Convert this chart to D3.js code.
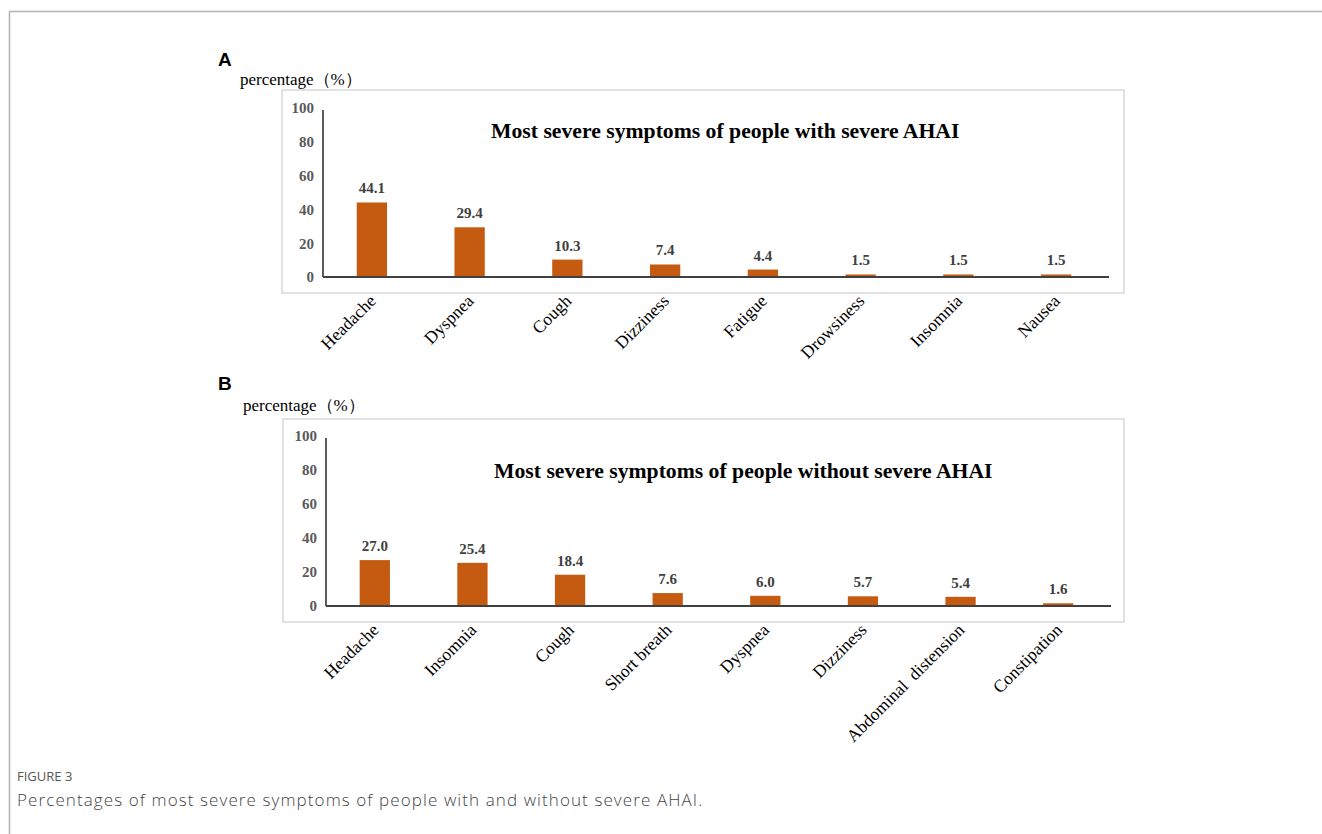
<!DOCTYPE html>
<html>
<head>
<meta charset="utf-8">
<script src="https://cdn.jsdelivr.net/npm/d3@7"></script>
<style>
  html, body { margin: 0; padding: 0; background: #fff; }
  svg { display: block; }
</style>
</head>
<body>
<svg id="chart" width="1322" height="834"></svg>
<script>
// ---- data ----
const categoriesA = ["Headache", "Dyspnea", "Cough", "Dizziness", "Fatigue", "Drowsiness", "Insomnia", "Nausea"];
const valuesA = [44.1, 29.4, 10.3, 7.4, 4.4, 1.5, 1.5, 1.5];
const titleA = "Most severe symptoms of people with severe AHAI";

const categoriesB = ["Headache", "Insomnia", "Cough", "Short breath", "Dyspnea", "Dizziness", "Abdominal  distension", "Constipation"];
const valuesB = [27.0, 25.4, 18.4, 7.6, 6.0, 5.7, 5.4, 1.6];
const titleB = "Most severe symptoms of people without severe AHAI";

const yTicks = [0, 20, 40, 60, 80, 100];
const yLabel = "percentage（%）";
const captionHead = "FIGURE 3";
const captionText = "Percentages of most severe symptoms of people with and without severe AHAI.";

// ---- drawing ----
const svg = d3.select("#chart");
const serif = "'Liberation Serif', 'Times New Roman', serif";
const barColor = "#C55A11";

// page frame
svg.append("line").attr("x1", 9).attr("x2", 1322).attr("y1", 11.5).attr("y2", 11.5)
  .attr("stroke", "#b3b3b3").attr("stroke-width", 1.5);
svg.append("line").attr("x1", 9.5).attr("x2", 9.5).attr("y1", 11).attr("y2", 834)
  .attr("stroke", "#b3b3b3").attr("stroke-width", 1.5);

function drawPanel(cfg) {
  const g = svg.append("g");
  // panel letter
  g.append("text").attr("x", cfg.letterX).attr("y", cfg.letterY)
    .attr("font-family", "'Liberation Sans', Arial, sans-serif").attr("font-weight", "bold")
    .attr("font-size", 19).attr("fill", "#000").text(cfg.letter);
  // y label
  g.append("text").attr("x", cfg.ylabX).attr("y", cfg.ylabY)
    .attr("font-family", serif).attr("font-size", 17).attr("fill", "#000").text(yLabel);
  // chart box
  g.append("rect").attr("x", cfg.box[0]).attr("y", cfg.box[1])
    .attr("width", cfg.box[2]).attr("height", cfg.box[3])
    .attr("fill", "#fff").attr("stroke", "#d9d9d9").attr("stroke-width", 1.5);

  const x = d3.scaleBand().domain(cfg.cats).range([cfg.x0, cfg.x1])
    .paddingInner(0.69).paddingOuter(0.345);
  const y = d3.scaleLinear().domain([0, 100]).range([cfg.y0, cfg.y1]);

  // y tick labels
  const yAxis = d3.axisLeft(y).tickValues(yTicks).tickSize(0).tickPadding(9);
  const ya = g.append("g").attr("transform", `translate(${cfg.x0},0)`).call(yAxis);
  ya.select(".domain").remove();
  ya.selectAll("text").attr("font-family", serif).attr("font-weight", "bold")
    .attr("font-size", 15).attr("fill", "#595959");

  // bars
  g.selectAll("rect.bar").data(cfg.vals).enter().append("rect")
    .attr("class", "bar")
    .attr("x", (d, i) => x(cfg.cats[i]))
    .attr("y", d => y(d))
    .attr("width", x.bandwidth())
    .attr("height", d => y(0) - y(d))
    .attr("fill", barColor);

  // value labels
  g.selectAll("text.val").data(cfg.vals).enter().append("text")
    .attr("class", "val")
    .attr("x", (d, i) => x(cfg.cats[i]) + x.bandwidth() / 2)
    .attr("y", d => y(d) - 9)
    .attr("text-anchor", "middle")
    .attr("font-family", serif).attr("font-weight", "bold")
    .attr("font-size", 15).attr("fill", "#404040")
    .text(d => d.toFixed(1));

  // axes lines
  g.append("line").attr("x1", cfg.x0).attr("x2", cfg.x0).attr("y1", y(100) + 2).attr("y2", y(0))
    .attr("stroke", "#262626").attr("stroke-width", 1.5);
  g.append("line").attr("x1", cfg.x0).attr("x2", cfg.x1 + 4).attr("y1", y(0)).attr("y2", y(0))
    .attr("stroke", "#404040").attr("stroke-width", 2);

  // x labels (rotated)
  const xAxis = d3.axisBottom(x).tickSize(0).tickPadding(0);
  const xa = g.append("g").attr("transform", `translate(0,${cfg.box[1] + cfg.box[3]})`).call(xAxis);
  xa.select(".domain").remove();
  xa.selectAll("text")
    .attr("font-family", serif).attr("font-size", 17.5).attr("fill", "#000")
    .attr("text-anchor", "end").attr("dy", 0)
    .attr("transform", "translate(5,9) rotate(-45)")
    .style("white-space", "pre");

  // title
  g.append("text").attr("x", cfg.titleX).attr("y", cfg.titleY)
    .attr("font-family", serif).attr("font-weight", "bold")
    .attr("font-size", 21.7).attr("fill", "#000").text(cfg.title);
}

drawPanel({
  letter: "A", letterX: 218, letterY: 66,
  ylabX: 240, ylabY: 85,
  box: [282, 90, 842, 203],
  x0: 323, x1: 1105, y0: 277, y1: 108,
  cats: categoriesA, vals: valuesA,
  title: titleA, titleX: 491, titleY: 138
});

drawPanel({
  letter: "B", letterX: 218, letterY: 390,
  ylabX: 243, ylabY: 411,
  box: [283, 419, 841, 203],
  x0: 326, x1: 1107, y0: 606, y1: 436,
  cats: categoriesB, vals: valuesB,
  title: titleB, titleX: 494, titleY: 478
});

// caption
svg.append("text").attr("x", 17).attr("y", 781)
  .attr("font-family", "'Open Sans', 'Noto Sans', sans-serif").attr("font-size", 13)
  .attr("fill", "#555").text(captionHead);
svg.append("text").attr("x", 17).attr("y", 806)
  .attr("font-family", "'Open Sans', 'Noto Sans', sans-serif").attr("font-weight", 300).attr("font-size", 17)
  .attr("letter-spacing", 1.1)
  .attr("fill", "#444").text(captionText);
</script>
</body>
</html>
